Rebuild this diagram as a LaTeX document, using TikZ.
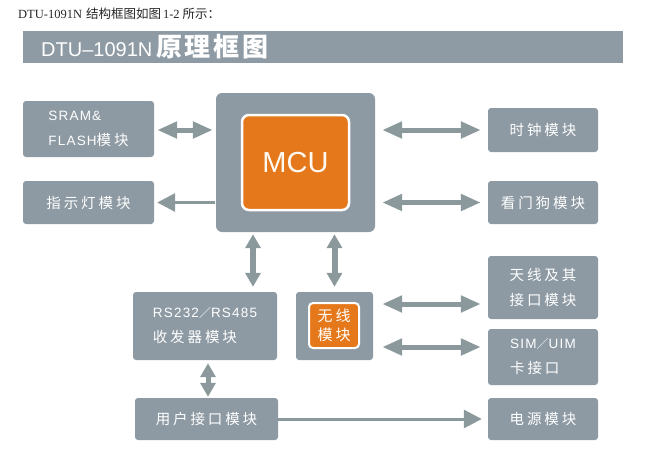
\documentclass[tikz,border=0pt]{standalone}
\usepackage{fontspec}
\setmainfont{Liberation Serif}
\newfontfamily\cjk{Noto Sans CJK SC}
\newfontfamily\cjkbox[LetterSpace=20]{Noto Sans CJK SC}
\newfontfamily\titlecjk[LetterSpace=10]{Noto Sans CJK SC}
\newfontfamily\latbox[LetterSpace=9]{Liberation Sans}
\newfontfamily\titlelat{Liberation Sans}
\newcommand\La[1]{{\latbox\fontsize{13.5}{25}\selectfont #1}}
\newcommand\Sl{{\cjk\fontsize{12}{25}\selectfont ／}}
\usetikzlibrary{arrows.meta}
\definecolor{boxgray}{HTML}{8D9AA3}
\definecolor{arrgray}{HTML}{8C999C}
\definecolor{mcuorange}{HTML}{E5781A}
\definecolor{bargray}{HTML}{8E9BA4}
\begin{document}
\begin{tikzpicture}[x=1pt,y=-1pt,
  box/.style={fill=boxgray, rounded corners=3pt, draw=none, text=white,
    font=\cjkbox\fontsize{14.5}{25}\selectfont, inner sep=0pt, align=left},
  orbox/.style={fill=mcuorange, draw=white, line width=2.5pt, rounded corners=7pt, inner sep=0pt},
  hdbl/.style={draw=arrgray, line width=5pt,
    {Triangle[length=20pt,width=16pt]}-{Triangle[length=20pt,width=16pt]}},
  vdbl/.style={draw=arrgray, line width=6pt,
    {Triangle[length=14pt,width=15pt]}-{Triangle[length=14pt,width=15pt]}},
  thin/.style={draw=arrgray, line width=3pt, -{Triangle[length=18pt,width=18pt]}}
]
\useasboundingbox (0,0) rectangle (669,472);

% caption
\node[anchor=west, inner sep=0pt, text=black!85] (cap) at (18,14)
  {\fontsize{12.5}{14}\selectfont DTU-1091N\hspace{4pt}{\cjk\fontsize{12.5}{14}\selectfont 结构框图如图}\hspace{2pt}1-2\hspace{3pt}{\cjk\fontsize{12.5}{14}\selectfont 所示：}};

% title bar
\node[fill=bargray, minimum width=600pt, minimum height=32pt, inner sep=0pt] (bar) at (323,47) {};
\node[anchor=west, inner sep=0pt, text=white] (title) at (41,47)
  {\titlelat\fontsize{20}{24}\selectfont DTU–1091N\hspace{4pt}{\titlecjk\bfseries\fontsize{26}{28}\selectfont 原理框图}};

% left boxes
\node[box, minimum width=131pt, minimum height=56pt] (sram) at (88.5,129) {\La{SRAM\&}\\\La{FLASH}模块};
\node[box, minimum width=131pt, minimum height=43pt] (led) at (88.5,202.5) {指示灯模块};

% MCU
\node[box, rounded corners=6pt, minimum width=159pt, minimum height=139pt] (mcu) at (295.5,162.5) {};
\node[orbox, minimum width=107pt, minimum height=95pt, text=white!95!orange,
  font=\titlelat\fontsize{29}{32}\selectfont] (core) at (295.5,162.5) {MCU};

% right boxes
\node[box, minimum width=110pt, minimum height=44pt] (clock) at (543,130) {时钟模块};
\node[box, minimum width=110pt, minimum height=43pt] (wdog) at (543,202.5) {看门狗模块};
\node[box, minimum width=110pt, minimum height=63pt] (ant) at (543,287.5) {天线及其\\接口模块};
\node[box, minimum width=110pt, minimum height=56pt] (sim) at (543,357) {\La{SIM}\Sl\La{UIM}\\卡接口};
\node[box, minimum width=110pt, minimum height=42pt] (power) at (543,419) {电源模块};

% lower boxes
\node[box, minimum width=144pt, minimum height=68pt] (rs) at (205,326) {\La{RS232}\Sl\La{RS485}\\收发器模块};
\node[box, minimum width=77pt, minimum height=68pt] (wl) at (334.5,326) {};
\node[orbox, rounded corners=4pt, line width=2pt, minimum width=50pt, minimum height=45pt, text=white,
  font=\cjkbox\fontsize{15}{19}\selectfont, align=center] (wlcore) at (334,325.5) {无线\\模块};
\node[box, minimum width=143pt, minimum height=42pt] (user) at (206.5,419) {用户接口模块};

% connectors
\draw[hdbl, shorten <=3pt, shorten >=3pt] (sram.east |- 0,130) -- (mcu.west |- 0,130);
\draw[thin, shorten <=1pt, shorten >=3pt] (mcu.west |- led.east) -- (led.east);
\draw[hdbl, shorten <=7pt, shorten >=7pt] (mcu.east |- clock.west) -- (clock.west);
\draw[hdbl, shorten <=7pt, shorten >=7pt] (mcu.east |- wdog.west) -- (wdog.west);
\draw[hdbl, shorten <=9pt, shorten >=7pt] (wl.east |- 0,304) -- (ant.west |- 0,304);
\draw[hdbl, shorten <=9pt, shorten >=7pt] (wl.east |- 0,347) -- (sim.west |- 0,347);
\draw[vdbl, shorten <=2pt, shorten >=5pt] (mcu.south -| 253,0) -- (rs.north -| 253,0);
\draw[vdbl, shorten <=2pt, shorten >=5pt] (mcu.south -| wl.north) -- (wl.north);
\draw[vdbl, line width=5pt, shorten <=3pt, shorten >=1pt] (rs.south -| 208,0) -- (user.north -| 208,0);
\draw[thin, shorten >=6pt] (user.east) -- (power.west);
\end{tikzpicture}
\end{document}
